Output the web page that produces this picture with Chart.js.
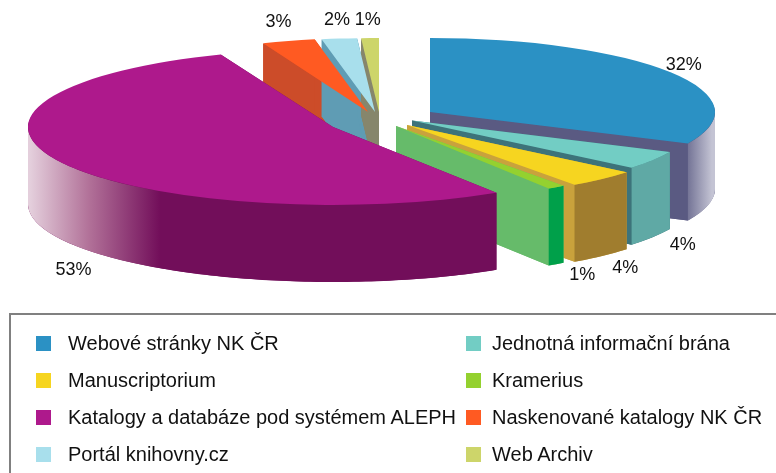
<!DOCTYPE html>
<html>
<head>
<meta charset="utf-8">
<script src="https://cdn.jsdelivr.net/npm/chart.js@4/dist/chart.umd.min.js"></script>
<style>
    body { margin: 0; background: #fff; font-family: 'Liberation Sans', Arial, sans-serif; }
    .wrap { position: relative; width: 776px; height: 473px; overflow: hidden; }
    canvas { position: absolute; left: 0; top: 0; }
    .legend {
        position: absolute; left: 9px; top: 313px; width: 800px; height: 200px;
        border: 2px solid #808080; box-sizing: border-box;
    }
    .item { position: absolute; font-size: 20px; color: #111; white-space: nowrap; line-height: 20px; }
    .item i { position: absolute; left: 0; top: 3px; width: 15px; height: 15px; }
    .item span { position: absolute; top: 0; }
</style>
</head>
<body>
<div class="wrap">
    <canvas id="chart" width="776" height="473"></canvas>
    <div class="legend" id="legend"></div>
</div>
<script>
const labels = [
    'Webové stránky NK ČR',
    'Jednotná informační brána',
    'Manuscriptorium',
    'Kramerius',
    'Katalogy a databáze pod systémem ALEPH',
    'Naskenované katalogy NK ČR',
    'Portál knihovny.cz',
    'Web Archiv'
];
const values = [32, 4, 4, 1, 53, 3, 2, 1];

const topColors = ['#2b91c4', '#72cdc4', '#f6d520', '#94d12f', '#ae198c', '#ff5a22', '#a8dfec', '#cdd56a'];
const cutColors = ['#5a5a82', '#3d737a', '#c9a23c', '#66bb6a', '#720e5a', '#cc4c29', '#5f9cb4', '#86866c'];
const rimColors = ['#5a5a82', '#5fa9a5', '#a07d2e', '#00a04a', '#720e5a', '#cc4c29', '#5f9cb4', '#86866c'];

// 3d look: pie centre, extrusion depth, per-slice pull-out and radii
const CENTER = [390, 116];
const DEPTH = 77;
const explode = [[40, -4], [22, 4.5], [17, 9], [6, 10], [-57, 11], [-22, -4], [-15, -4], [-11, -4]];
const radii = [[285, 74], [285, 74], [285, 74], [285, 74], [305, 78], [285, 74], [285, 74], [285, 74]];
// small nudges for the percent labels [dx, dy]
const labelNudge = [[-23, 6], [-6, 2], [-6, 4], [2, 2], [53, 25], [2, -1], [3, -1], [-1, 0]];

function rimFill(ctx, i) {
    let g;
    if (i === 4) {
        g = ctx.createLinearGradient(30, 0, 160, 0);
        g.addColorStop(0, '#e4cfdc');
        g.addColorStop(0.45, '#b27299');
        g.addColorStop(1, '#720e5a');
        return g;
    }
    if (i === 0) {
        g = ctx.createLinearGradient(680, 0, 712, 0);
        g.addColorStop(0, '#5a5a82');
        g.addColorStop(1, '#c4c4d4');
        return g;
    }
    return rimColors[i];
}

function arcCopy(arc, color) {
    const copy = Object.assign(Object.create(Object.getPrototypeOf(arc)), arc);
    copy.options = Object.assign({}, arc.options, { backgroundColor: color, borderWidth: 0 });
    return copy;
}

function geometry(arc, i) {
    const [rx, ry] = radii[i];
    const cx = CENTER[0] + explode[i][0], cy = CENTER[1] + explode[i][1];
    const r = arc.outerRadius;
    const m = [rx / r, 0, 0, ry / r, cx - rx * arc.x / r, cy - ry * arc.y / r];
    const at = (ang, k) => [cx + k * rx * Math.cos(ang), cy + k * ry * Math.sin(ang)];
    return { m, at, cx, cy };
}

function lowestY(arc, i) {
    const g = geometry(arc, i);
    let y = g.cy;
    for (let k = 0; k <= 24; k++) {
        const ang = arc.startAngle + (arc.endAngle - arc.startAngle) * k / 24;
        y = Math.max(y, g.at(ang, 1)[1]);
    }
    return y;
}

function drawSides(ctx, arc, i) {
    const { m, at, cx, cy } = geometry(arc, i);

    // body: the slice pushed down layer by layer
    const body = arcCopy(arc, cutColors[i]);
    for (let d = DEPTH; d > 0; d--) {
        ctx.setTransform(m[0], m[1], m[2], m[3], m[4], m[5] + d);
        body.draw(ctx);
    }
    ctx.setTransform(1, 0, 0, 1, 0, 0);

    // cut faces
    ctx.fillStyle = cutColors[i];
    [arc.startAngle, arc.endAngle].forEach(ang => {
        const [px, py] = at(ang, 1);
        ctx.beginPath();
        ctx.moveTo(cx, cy);
        ctx.lineTo(px, py);
        ctx.lineTo(px, py + DEPTH);
        ctx.lineTo(cx, cy + DEPTH);
        ctx.closePath();
        ctx.fill();
    });

    // front rim (the part of the outer edge that faces us)
    const lo = Math.max(arc.startAngle, 0), hi = Math.min(arc.endAngle, Math.PI);
    if (hi > lo) {
        const steps = Math.max(2, Math.ceil((hi - lo) / 0.02));
        const pts = [];
        for (let k = 0; k <= steps; k++) pts.push(at(lo + (hi - lo) * k / steps, 1));
        ctx.fillStyle = rimFill(ctx, i);
        ctx.beginPath();
        pts.forEach(([x, y], k) => k ? ctx.lineTo(x, y) : ctx.moveTo(x, y));
        for (let k = pts.length - 1; k >= 0; k--) ctx.lineTo(pts[k][0], pts[k][1] + DEPTH);
        ctx.closePath();
        ctx.fill();
    }
}

const pie3d = {
    id: 'pie3d',
    beforeDatasetsDraw(chart) {
        const ctx = chart.ctx;
        const arcs = chart.getDatasetMeta(0).data;
        const order = arcs.map((a, i) => i)
            .sort((i, j) => lowestY(arcs[i], i) - lowestY(arcs[j], j));

        ctx.save();
        // all sides first (back to front), then the tops, which always sit above them
        order.forEach(i => drawSides(ctx, arcs[i], i));
        order.forEach(i => {
            const m = geometry(arcs[i], i).m;
            ctx.setTransform(m[0], m[1], m[2], m[3], m[4], m[5]);
            arcCopy(arcs[i], topColors[i]).draw(ctx);
        });
        ctx.restore();
        return false;
    },
    afterDraw(chart) {
        const ctx = chart.ctx;
        const arcs = chart.getDatasetMeta(0).data;
        const total = values.reduce((a, b) => a + b, 0);
        ctx.save();
        ctx.font = '18px "Liberation Sans", Arial, sans-serif';
        ctx.fillStyle = '#111';
        ctx.textAlign = 'center';
        ctx.textBaseline = 'middle';
        arcs.forEach((arc, i) => {
            const mid = (arc.startAngle + arc.endAngle) / 2;
            let [x, y] = geometry(arc, i).at(mid, 1.15);
            y += Math.sin(mid) > 0 ? DEPTH : -7;
            x += labelNudge[i][0];
            y += labelNudge[i][1];
            ctx.fillText(Math.round(values[i] / total * 100) + '%', x, y);
        });
        ctx.restore();
    }
};

new Chart(document.getElementById('chart'), {
    type: 'pie',
    data: {
        labels: labels,
        datasets: [{
            data: values,
            backgroundColor: topColors,
            borderWidth: 0
        }]
    },
    options: {
        responsive: false,
        animation: false,
        events: [],
        plugins: {
            legend: { display: false },
            tooltip: { enabled: false }
        }
    },
    plugins: [pie3d]
});

// legend in two columns, same order as the slices
const legend = document.getElementById('legend');
labels.forEach((label, i) => {
    const el = document.createElement('div');
    el.className = 'item';
    el.style.left = (i % 2 ? 455 : 25) + 'px';
    el.style.top = (18 + Math.floor(i / 2) * 37) + 'px';
    el.innerHTML = '<i style="background:' + topColors[i] + '"></i><span></span>';
    const span = el.querySelector('span');
    span.style.left = (i % 2 ? 26 : 32) + 'px';
    span.textContent = label;
    legend.appendChild(el);
});
</script>
</body>
</html>
